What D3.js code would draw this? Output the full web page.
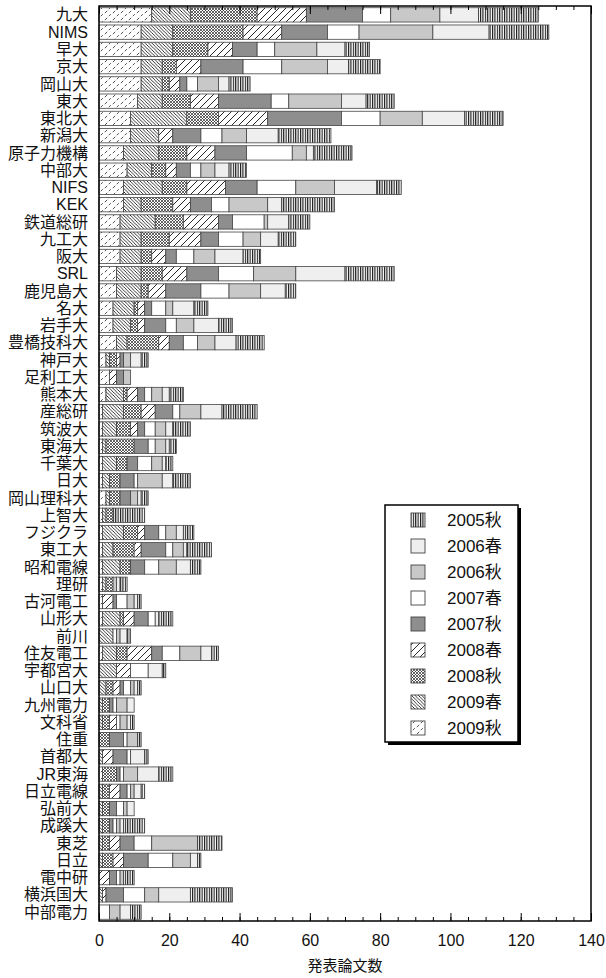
<!DOCTYPE html>
<html><head><meta charset="utf-8">
<script src="https://cdn.jsdelivr.net/npm/d3@7"></script>
<style>
body{margin:0;background:#fff;}
svg{display:block;font-family:"Liberation Sans","Noto Sans CJK JP",sans-serif;}
</style></head>
<body>
<svg id="c" width="606" height="978"></svg>
<script>
const categories = ["九大","NIMS","早大","京大","岡山大","東大","東北大","新潟大","原子力機構","中部大","NIFS","KEK","鉄道総研","九工大","阪大","SRL","鹿児島大","名大","岩手大","豊橋技科大","神戸大","足利工大","熊本大","産総研","筑波大","東海大","千葉大","日大","岡山理科大","上智大","フジクラ","東工大","昭和電線","理研","古河電工","山形大","前川","住友電工","宇都宮大","山口大","九州電力","文科省","住重","首都大","JR東海","日立電線","弘前大","成蹊大","東芝","日立","電中研","横浜国大","中部電力"];

// stacking order left -> right
const seriesNames = ["2009秋","2009春","2008秋","2008春","2007秋","2007春","2006秋","2006春","2005秋"];
// legend order top -> bottom
const legendNames = ["2005秋","2006春","2006秋","2007春","2007秋","2008春","2008秋","2009春","2009秋"];

const v2009aki = [15,12,12,12,12,11,9,9,7,8,7,7,6,6,6,5,5,4,4,5,2,3,2,1,1,1,1,1,2,1,1,1,1,1,1,1,0,1,0,0,0,0,0,0,1,0,0,0,0,0,0,0,0];
const v2009haru = [11,9,9,6,6,7,16,8,10,7,11,5,10,6,6,7,7,6,5,3,1,0,5,6,4,1,4,2,1,1,6,3,5,1,0,5,4,4,5,2,1,1,0,1,0,1,1,1,1,1,0,1,0];
const v2008aki = [19,20,10,4,2,8,9,0,8,4,7,9,8,8,3,6,2,1,2,9,2,0,1,5,4,8,3,3,3,2,4,6,3,2,0,1,0,3,0,2,2,2,3,0,4,2,2,2,2,3,0,0,0];
const v2008haru = [14,11,7,7,3,8,14,4,8,3,11,5,10,9,4,7,5,2,2,3,1,2,3,4,2,0,0,0,0,0,2,2,0,0,3,3,0,7,4,2,0,2,0,3,0,3,0,0,3,3,3,1,0];
const v2007aki = [16,13,7,12,2,15,21,8,9,4,9,6,4,5,3,9,10,2,6,4,1,2,2,5,2,4,3,4,3,0,4,7,4,0,1,4,0,3,0,1,1,0,4,4,1,2,2,1,4,7,2,5,0];
const v2007haru = [8,9,5,11,3,5,11,6,13,3,11,5,9,7,5,10,8,4,3,4,0,0,2,2,3,2,4,1,0,0,2,2,4,0,3,2,1,5,5,2,1,1,1,1,1,1,2,1,5,7,1,6,3];
const v2006aki = [14,21,12,13,6,15,12,7,4,4,11,11,1,5,6,12,9,2,5,5,2,2,3,6,3,3,3,7,2,0,3,3,5,1,2,0,1,6,0,1,3,2,3,0,4,1,1,1,13,5,1,4,3];
const v2006haru = [11,16,8,6,3,7,12,9,2,4,12,4,6,5,8,14,7,6,7,6,3,0,2,6,2,1,1,3,1,0,2,1,4,1,1,1,2,3,4,1,2,1,0,4,6,2,2,1,0,2,0,9,3];
const v2005aki = [17,17,7,9,6,8,11,15,11,5,7,15,6,5,5,14,3,4,4,8,2,0,4,10,5,2,2,5,2,9,3,7,3,2,1,4,1,2,1,1,0,1,1,1,4,1,0,6,7,1,3,12,3];

const xTicksMajor = [0,20,40,60,80,100,120,140];
const xTicksMinor = d3.range(0,141,5);
const xTitle = "発表論文数";

const seriesValues = {"2009秋":v2009aki,"2009春":v2009haru,"2008秋":v2008aki,"2008春":v2008haru,"2007秋":v2007aki,"2007春":v2007haru,"2006秋":v2006aki,"2006春":v2006haru,"2005秋":v2005aki};

const rows = categories.map((c,i)=>{const o={cat:c}; seriesNames.forEach(s=>o[s]=seriesValues[s][i]); return o;});

const svg = d3.select("#c");
const L=99,R=591,T=6,B=921;
const x = d3.scaleLinear().domain([0,140]).range([L,R]);
const y = d3.scaleBand().domain(categories).range([T,B]).paddingInner(0.17).paddingOuter(0.1);

// patterns
const defs = svg.append("defs");
function pat(id,w,h,draw){
  const p = defs.append("pattern").attr("id",id).attr("patternUnits","userSpaceOnUse").attr("width",w).attr("height",h);
  p.append("rect").attr("width",w).attr("height",h).attr("fill","#fff");
  draw(p);
}
pat("p2005aki",2.4,4,p=>p.append("rect").attr("x",0).attr("width",1.1).attr("height",4).attr("fill","#111"));
pat("p2008haru",7,7,p=>p.append("path").attr("d","M-1,8 L8,-1 M-2,2 L2,-2 M5,9 L9,5").attr("stroke","#111").attr("stroke-width",0.9));
pat("p2008aki",3,3,p=>p.append("path").attr("d","M0,0 L3,3 M3,0 L0,3").attr("stroke","#222").attr("stroke-width",0.7));
pat("p2009haru",3.4,3.4,p=>p.append("path").attr("d","M-1,-1 L4.4,4.4 M-1,2.4 L1,4.4 M2.4,-1 L4.4,1").attr("stroke","#111").attr("stroke-width",0.85));
pat("p2009aki",8,7,p=>p.append("path").attr("d","M0.8,6.2 L3.2,3.8 M4.8,2.2 L6.8,0.2").attr("stroke","#222").attr("stroke-width",0.8));

const fills = {
  "2005秋":"url(#p2005aki)",
  "2006春":"#efefef",
  "2006秋":"#c8c8c8",
  "2007春":"#ffffff",
  "2007秋":"#8e8e8e",
  "2008春":"url(#p2008haru)",
  "2008秋":"url(#p2008aki)",
  "2009春":"url(#p2009haru)",
  "2009秋":"url(#p2009aki)"
};

const stack = d3.stack().keys(seriesNames)(rows);

svg.append("g").selectAll("g").data(stack).join("g")
  .attr("fill",d=>fills[d.key])
  .selectAll("rect").data(d=>d.filter(e=>e[1]>e[0])).join("rect")
  .attr("x",d=>x(d[0])).attr("width",d=>x(d[1])-x(d[0]))
  .attr("y",d=>y(d.data.cat)).attr("height",y.bandwidth())
  .attr("stroke","#444").attr("stroke-width",0.8);

// category labels
svg.append("g").selectAll("text").data(categories).join("text")
  .attr("x",88).attr("y",d=>y(d)+y.bandwidth()/2).attr("dy","0.35em")
  .attr("text-anchor","end").attr("font-size",16).attr("fill","#111").text(d=>d);

// axes ticks
const gB = svg.append("g").attr("transform",`translate(0,${B})`);
gB.call(d3.axisBottom(x).tickValues(xTicksMinor).tickSize(-4).tickFormat(""));
const gB2 = svg.append("g").attr("transform",`translate(0,${B})`);
gB2.call(d3.axisBottom(x).tickValues(xTicksMajor).tickSize(-8).tickPadding(14).tickFormat(d3.format("d")));
const gT = svg.append("g").attr("transform",`translate(0,${T})`);
gT.call(d3.axisTop(x).tickValues(xTicksMinor).tickSize(-4).tickFormat(""));
const gT2 = svg.append("g").attr("transform",`translate(0,${T})`);
gT2.call(d3.axisTop(x).tickValues(xTicksMajor).tickSize(-8).tickFormat(""));
svg.selectAll(".domain").remove();
svg.selectAll(".tick line").attr("stroke","#000").attr("stroke-width",1);
gB2.selectAll("text").attr("font-size",16).attr("fill","#111").attr("font-family","Liberation Sans, sans-serif");

// frame
svg.append("rect").attr("x",L).attr("y",T).attr("width",R-L).attr("height",B-T)
  .attr("fill","none").attr("stroke","#000").attr("stroke-width",1.5);

svg.append("text").attr("x",(L+R)/2).attr("y",971).attr("text-anchor","middle")
  .attr("font-size",15).attr("fill","#111").text(xTitle);

// legend
const lg = svg.append("g");
const lx=385, ly=505, lw=133, lh=237;
lg.append("rect").attr("x",lx+3).attr("y",ly+3).attr("width",lw).attr("height",lh).attr("fill","#000");
lg.append("rect").attr("x",lx).attr("y",ly).attr("width",lw).attr("height",lh).attr("fill","#fff").attr("stroke","#000").attr("stroke-width",1.5);
const li = lg.selectAll("g.it").data(legendNames).join("g").attr("class","it")
  .attr("transform",(d,i)=>`translate(0,${520+i*26})`);
li.append("rect").attr("x",411).attr("y",-7).attr("width",14).attr("height",14)
  .attr("fill",d=>fills[d]).attr("stroke","#444").attr("stroke-width",0.9);
li.append("text").attr("x",447).attr("y",0).attr("dy","0.36em").attr("font-size",17).attr("fill","#111").text(d=>d);
</script>
</body></html>
